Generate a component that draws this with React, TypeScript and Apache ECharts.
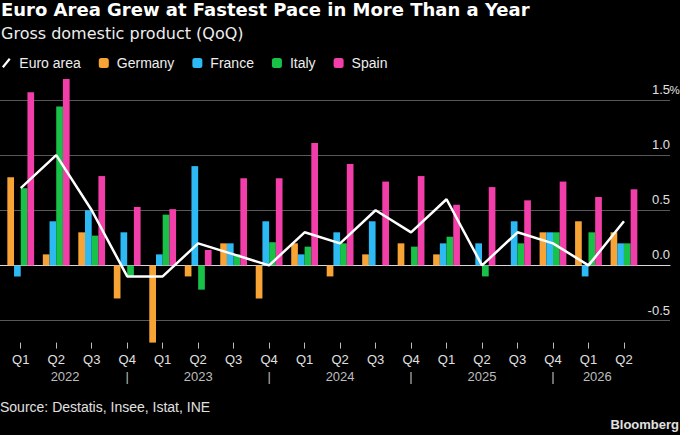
import React, { useEffect, useRef } from "react";
import * as echarts from "echarts";

const quarters = ["Q1", "Q2", "Q3", "Q4", "Q1", "Q2", "Q3", "Q4", "Q1", "Q2", "Q3", "Q4", "Q1", "Q2", "Q3", "Q4", "Q1", "Q2"];
const years = ["2022", "2023", "2024", "2025", "2026"];
const yTicks = [-0.5, 0, 0.5, 1.0, 1.5];

const euroArea = [0.7, 1.0, 0.5, -0.1, -0.1, 0.2, 0.1, 0.0, 0.3, 0.2, 0.5, 0.3, 0.6, 0.0, 0.3, 0.2, 0.0, 0.4];
const germany = [0.8, 0.1, 0.3, -0.3, -0.7, -0.1, 0.2, -0.3, 0.2, -0.1, 0.1, 0.2, 0.1, 0, 0, 0.3, 0.4, 0.3];
const france = [-0.1, 0.4, 0.5, 0.3, 0.1, 0.9, 0.2, 0.4, 0.1, 0.3, 0.4, 0, 0.2, 0.2, 0.4, 0.3, -0.1, 0.2];
const italy = [0.7, 1.44, 0.27, -0.1, 0.46, -0.22, 0.1, 0.21, 0.17, 0.2, 0, 0.17, 0.26, -0.1, 0.2, 0.3, 0.3, 0.2];
const spain = [1.57, 1.69, 0.81, 0.53, 0.51, 0.14, 0.79, 0.79, 1.11, 0.92, 0.76, 0.81, 0.55, 0.71, 0.59, 0.76, 0.62, 0.69];

const FONT = "'Liberation Sans', Arial, sans-serif";
const HEAD_FONT = "'DejaVu Sans', sans-serif";
const Y_MIN = -0.7;
const Y_MAX = 1.75;

export default function App() {
  const ref = useRef<HTMLDivElement>(null);

  useEffect(() => {
    const chart = echarts.init(ref.current as HTMLDivElement, null, { renderer: "svg" });

    // year label positions: midpoints between Q4 separators (category units)
    const seps: number[] = [];
    quarters.forEach((q, i) => {
      if (q === "Q4" && i < quarters.length - 1) seps.push(i);
    });
    const bounds = [-0.5, ...seps, quarters.length - 0.5];
    const yearCenters: number[] = [];
    for (let i = 0; i < bounds.length - 1; i++) yearCenters.push((bounds[i] + bounds[i + 1]) / 2);
    const labelMap: Record<string, string> = {};
    yearCenters.forEach((c, i) => (labelMap[String(Math.round(c * 100))] = years[i]));
    seps.forEach((s) => (labelMap[String(Math.round(s * 100))] = "|"));

    const top = 72.4;
    const height = 270.2;

    const barBase = {
      type: "bar" as const,
      xAxisIndex: 1,
      yAxisIndex: 1,
      barWidth: 6.7,
      barGap: "0%",
    };

    const baseGraphic = [
      {
        type: "text",
        left: 0,
        top: 400,
        style: { text: "Source: Destatis, Insee, Istat, INE", fill: "#e0e0e0", fontSize: 14, fontFamily: FONT },
      },
      {
        type: "text",
        right: 1,
        top: 418,
        style: { text: "Bloomberg", fill: "#e0e0e0", fontSize: 13, fontWeight: "bold", fontFamily: FONT },
      },
    ];

    chart.setOption({
      animation: false,
      backgroundColor: "#000",
      textStyle: { fontFamily: FONT },
      title: {
        text: "Euro Area Grew at Fastest Pace in More Than a Year",
        subtext: "Gross domestic product (QoQ)",
        left: 1,
        top: 0,
        padding: 0,
        itemGap: 7,
        textStyle: { color: "#fff", fontSize: 18, fontWeight: "bold", fontFamily: HEAD_FONT },
        subtextStyle: { color: "#eee", fontSize: 16, fontFamily: HEAD_FONT },
      },
      legend: {
        left: 2,
        top: 56,
        padding: 0,
        itemGap: 18,
        itemWidth: 10,
        itemHeight: 10,
        textStyle: { color: "#eee", fontSize: 14, fontFamily: FONT, padding: [0, 0, 0, 3] },
        data: [
          { name: "Euro area", icon: "path://M0,10L8,0L10,1.6L2,11.6Z" },
          { name: "Germany", icon: "roundRect" },
          { name: "France", icon: "roundRect" },
          { name: "Italy", icon: "roundRect" },
          { name: "Spain", icon: "roundRect" },
        ],
      },
      grid: [
        { left: 0, right: 10, top, height },
        { left: 3, right: 38.3, top, height },
      ],
      xAxis: [
        {
          gridIndex: 0,
          type: "value",
          min: 0,
          max: 1,
          axisLine: { show: true, onZero: true, lineStyle: { color: "#d8d8d8", width: 1 } },
          axisTick: { show: false },
          axisLabel: { show: false },
          splitLine: { show: false },
        },
        {
          gridIndex: 1,
          type: "category",
          data: quarters,
          position: "bottom",
          axisLine: { show: false, onZero: false },
          axisTick: { show: true, alignWithLabel: true, length: 6, lineStyle: { color: "#bbb" } },
          axisLabel: { color: "#e0e0e0", fontSize: 13, margin: 10, fontFamily: FONT, interval: 0 },
          splitLine: { show: false },
        },
        {
          gridIndex: 1,
          type: "value",
          min: -0.5,
          max: quarters.length - 0.5,
          position: "bottom",
          axisLine: { show: false, onZero: false },
          axisTick: { show: false },
          splitLine: { show: false },
          axisLabel: {
            color: "#bdbdbd",
            fontSize: 13,
            margin: 27,
            fontFamily: FONT,
            customValues: [...yearCenters, ...seps],
            formatter: (v: number) => labelMap[String(Math.round(v * 100))] ?? "",
          },
        },
      ],
      yAxis: [
        {
          gridIndex: 0,
          type: "value",
          position: "right",
          min: Y_MIN,
          max: Y_MAX,
          axisLine: { show: false },
          axisTick: { show: false, customValues: yTicks },
          splitLine: { show: true, lineStyle: { color: "#585858", width: 1 } },
          axisLabel: {
            inside: true,
            margin: 0,
            color: "#e0e0e0",
            fontSize: 13,
            fontFamily: FONT,
            verticalAlign: "bottom",
            padding: [0, 0, 4, 0],
            customValues: yTicks,
            formatter: (v: number) => v.toFixed(1),
          },
        },
        {
          gridIndex: 1,
          type: "value",
          min: Y_MIN,
          max: Y_MAX,
          show: false,
          splitLine: { show: false },
        },
      ],
      series: [
        { ...barBase, name: "Germany", data: germany, itemStyle: { color: "#F7A336" } },
        { ...barBase, name: "France", data: france, itemStyle: { color: "#2DB9F3" } },
        { ...barBase, name: "Italy", data: italy, itemStyle: { color: "#18C147" } },
        { ...barBase, name: "Spain", data: spain, itemStyle: { color: "#F23EA8" } },
        {
          type: "line",
          name: "Euro area",
          xAxisIndex: 1,
          yAxisIndex: 1,
          data: euroArea,
          symbol: "none",
          z: 5,
          lineStyle: { color: "#fff", width: 2.5 },
          itemStyle: { color: "#fff" },
        },
      ],
      graphic: baseGraphic,
    });

    // "%" unit after the top tick label, placed from the axis scale
    const topTick = yTicks[yTicks.length - 1];
    const py = chart.convertToPixel({ yAxisIndex: 0 }, topTick) as number;
    const px = chart.convertToPixel({ xAxisIndex: 0 }, 1) as number;
    chart.setOption({
      graphic: [
        ...baseGraphic,
        {
          type: "text",
          x: px - 0.5,
          y: py - 4,
          style: {
            text: "%",
            fill: "#e0e0e0",
            fontSize: 11.5,
            fontFamily: FONT,
            align: "left",
            verticalAlign: "bottom",
          },
        },
      ],
    });

    return () => chart.dispose();
  }, []);

  return (
    <div
      ref={ref}
      style={{ position: "fixed", left: 0, top: 0, width: 680, height: 435, background: "#000" }}
    />
  );
}
